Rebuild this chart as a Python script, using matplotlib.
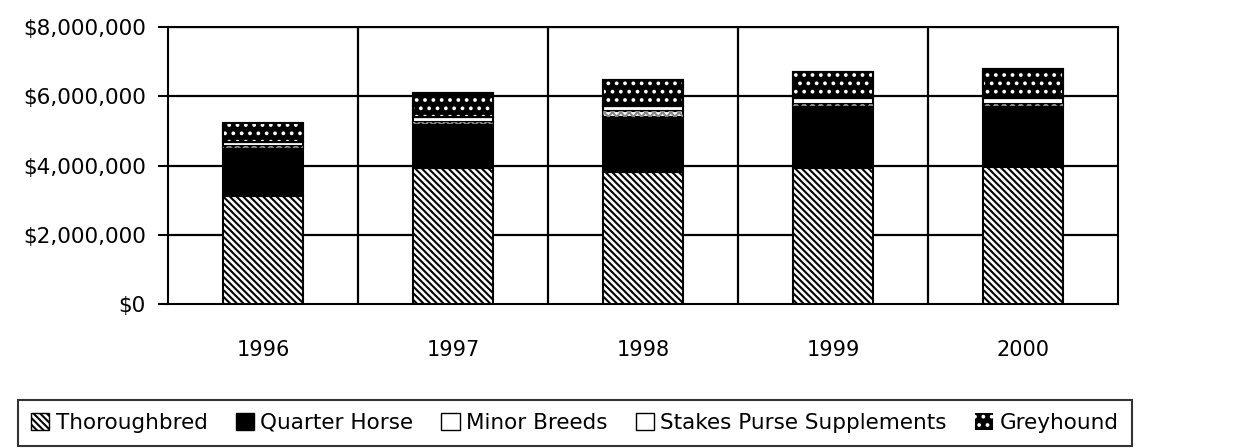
import matplotlib
matplotlib.use("Agg")
import matplotlib.pyplot as plt
import numpy as np
from matplotlib.patches import Patch
from matplotlib.ticker import FuncFormatter

years = ["1996", "1997", "1998", "1999", "2000"]
thoroughbred = [3.11e6, 3.92e6, 3.80e6, 3.92e6, 3.95e6]
quarter_horse = [1.39e6, 1.27e6, 1.59e6, 1.81e6, 1.78e6]
minor_breeds = [0.06e6, 0.06e6, 0.18e6, 0.06e6, 0.06e6]
stakes_supp = [0.12e6, 0.14e6, 0.16e6, 0.15e6, 0.15e6]
greyhound = [0.56e6, 0.69e6, 0.75e6, 0.75e6, 0.86e6]
y_ticks = [0, 2e6, 4e6, 6e6, 8e6]
legend_labels = ["Thoroughbred", "Quarter Horse", "Minor Breeds",
                 "Stakes Purse Supplements", "Greyhound"]

plt.rcParams['font.family'] = ['DejaVu Sans']
plt.rcParams['hatch.linewidth'] = 1.5

fig = plt.figure(figsize=(12.52, 4.48), dpi=100)
ax = fig.add_axes([168/1252, 1-304/448, 950/1252, 277/448])

x = np.arange(len(years))
w = 0.42
lw = 1.5

bottom = np.zeros(len(years))
# Thoroughbred: dense diagonal hatch
ax.bar(x, thoroughbred, w, bottom=bottom, facecolor="white",
       edgecolor="black", hatch="\\\\\\\\\\", linewidth=lw, zorder=3)
bottom += np.array(thoroughbred)
# Quarter Horse: solid black
ax.bar(x, quarter_horse, w, bottom=bottom, facecolor="black",
       edgecolor="black", linewidth=lw, zorder=3)
bottom += np.array(quarter_horse)
# Minor Breeds: white with light checker
ax.bar(x, minor_breeds, w, bottom=bottom, facecolor="white",
       edgecolor="black", linewidth=lw, zorder=3)
ax.bar(x, minor_breeds, w, bottom=bottom, facecolor="none",
       edgecolor="#888888", hatch="xxxx", linewidth=0, zorder=3.5)
bottom += np.array(minor_breeds)
# Stakes: white
ax.bar(x, stakes_supp, w, bottom=bottom, facecolor="white",
       edgecolor="black", linewidth=lw, zorder=3)
bottom += np.array(stakes_supp)
# Greyhound: black with white dots
ax.bar(x, greyhound, w, bottom=bottom, facecolor="black",
       edgecolor="black", linewidth=lw, zorder=3)
ax.bar(x, greyhound, w, bottom=bottom, facecolor="none",
       edgecolor="white", hatch="..", linewidth=0, zorder=3.5)
ax.bar(x, greyhound, w, bottom=bottom, facecolor="none",
       edgecolor="black", linewidth=lw, zorder=3.6)

ax.set_xlim(-0.5, len(years) - 0.5)
ax.set_ylim(0, 8e6)
ax.set_yticks(y_ticks)
ax.yaxis.set_major_formatter(FuncFormatter(lambda v, p: "${:,.0f}".format(v)))
ax.set_xticks(x)
ax.set_xticklabels(years)

for yv in y_ticks[1:]:
    ax.axhline(yv, color="black", linewidth=1.6, zorder=1)
for xv in np.arange(0.5, len(years) - 0.5, 1.0):
    ax.axvline(xv, color="black", linewidth=1.6, zorder=1)

for s in ax.spines.values():
    s.set_linewidth(1.5)
    s.set_color("black")

ax.tick_params(axis="y", length=7, width=1.5, pad=9, labelsize=15.5)
ax.tick_params(axis="x", length=0, pad=26, labelsize=15)

handles = [
    Patch(facecolor="white", edgecolor="black", hatch="\\\\\\\\\\"),
    Patch(facecolor="black", edgecolor="black"),
    Patch(facecolor="white", edgecolor="black"),
    Patch(facecolor="white", edgecolor="black"),
    Patch(facecolor="black", edgecolor="white", hatch="..", linewidth=0),
]
leg = fig.legend(handles, legend_labels, loc="upper left",
                 bbox_to_anchor=(18/1252, 1-400/448), ncol=5,
                 frameon=True, fancybox=False, fontsize=15.5,
                 handlelength=0.85, handleheight=0.85, handletextpad=0.3,
                 columnspacing=1.3, borderpad=0.6, borderaxespad=0)
leg.get_frame().set_edgecolor("black")
leg.get_frame().set_linewidth(1.5)

fig.savefig("out.png", dpi=100)
